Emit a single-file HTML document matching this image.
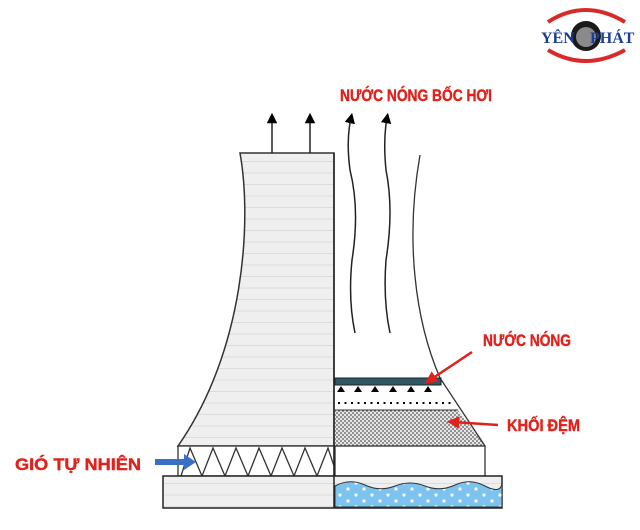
<!DOCTYPE html>
<html><head><meta charset="utf-8"><style>
html,body{margin:0;padding:0;background:#fff;width:640px;height:530px;overflow:hidden}
svg{display:block}
.t{font-family:"Liberation Sans",sans-serif;font-weight:bold;fill:#e0211c;font-size:17px;stroke:#e0211c;stroke-width:0.4}
</style></head><body>
<svg width="640" height="530" viewBox="0 0 640 530">
<defs>
<pattern id="hl" width="10" height="11.5" patternUnits="userSpaceOnUse"><rect width="10" height="11.5" fill="#efefef"/><line x1="0" y1="0.5" x2="10" y2="0.5" stroke="#dcdcdc" stroke-width="1"/></pattern>
<pattern id="dots" width="4" height="4" patternUnits="userSpaceOnUse"><rect width="4" height="4" fill="#e6e6e6"/><circle cx="1" cy="1" r="0.9" fill="#555"/><circle cx="3" cy="3" r="0.9" fill="#555"/></pattern>
<pattern id="wd" width="16" height="12" patternUnits="userSpaceOnUse"><rect width="16" height="12" fill="#7cc3f0"/><circle cx="4" cy="3" r="1.6" fill="#fff"/><circle cx="12" cy="9" r="1.6" fill="#fff"/></pattern>
<marker id="ah" viewBox="0 0 10 10" refX="5" refY="5" markerWidth="7" markerHeight="7" orient="auto"><path d="M0,0L10,5L0,10z" fill="#000"/></marker>
<marker id="ar" viewBox="0 0 10 10" refX="5" refY="5" markerWidth="5" markerHeight="5" orient="auto"><path d="M0,0L10,5L0,10z" fill="#e0211c"/></marker>
</defs>
<path d="M548,22 Q585,-2 625,22" fill="none" stroke="#d92a2a" stroke-width="4"/>
<path d="M548,50 Q585,72 625,50" fill="none" stroke="#d92a2a" stroke-width="4"/>
<circle cx="586" cy="36" r="15" fill="#1a1a1a"/>
<circle cx="586" cy="37" r="10" fill="#8a8a8a"/>
<text x="541" y="43" font-family="Liberation Serif,serif" font-weight="bold" font-size="16" fill="#1c3f94">YÊN</text>
<text x="590" y="43" font-family="Liberation Serif,serif" font-weight="bold" font-size="16" fill="#1c3f94">PHÁT</text>
<path d="M240,153 L334,153 L334,446 L178,446 C245,350 252,220 240,153 Z" fill="url(#hl)" stroke="#333" stroke-width="1.5"/>
<path d="M420,155 C405,240 415,320 440,378" fill="none" stroke="#333" stroke-width="1.3"/>
<path d="M335,410 L458,410 L485,446 L335,446 Z" fill="url(#dots)"/>
<line x1="335" y1="410" x2="458" y2="410" stroke="#333"/>
<line x1="440" y1="378" x2="485" y2="446" stroke="#333" stroke-width="1.3"/>
<rect x="335" y="378" width="106" height="7" fill="#2e5a66" stroke="#222"/>
<g fill="#000">
<path d="M337,392h8l-4,-6z M354,392h8l-4,-6z M371,392h8l-4,-6z M389,392h8l-4,-6z M407,392h8l-4,-6z M424,392h8l-4,-6z"/>
</g>
<line x1="338" y1="403" x2="452" y2="403" stroke="#000" stroke-width="2" stroke-dasharray="2 4.5"/>
<rect x="335" y="446" width="150" height="30" fill="#fff" stroke="#333" stroke-width="1.3"/>
<rect x="178" y="446" width="156" height="30" fill="#fff" stroke="#333" stroke-width="1.3"/>
<path d="M181,476 L190,448 L202,476 L213,448 L225,476 L236,448 L248,476 L259,448 L271,476 L282,448 L294,476 L305,448 L317,476 L328,448 L334,466" fill="none" stroke="#333" stroke-width="1.3"/>
<rect x="163" y="476" width="339" height="32" fill="url(#hl)" stroke="#222" stroke-width="1.5"/>
<path d="M335,486 Q350,478 365,485 T395,486 T425,486 T455,485 T485,486 T502,484 L502,507 L335,507 Z" fill="url(#wd)" stroke="#333"/>
<line x1="334" y1="153" x2="334" y2="508" stroke="#222" stroke-width="1.5"/>
<line x1="272" y1="153" x2="272" y2="118" stroke="#222" stroke-width="1.5" marker-end="url(#ah)"/>
<line x1="310" y1="153" x2="310" y2="118" stroke="#222" stroke-width="1.5" marker-end="url(#ah)"/>
<path d="M355,333 Q348,300 352,260 Q360,210 350,170 Q346,140 351,118" fill="none" stroke="#222" stroke-width="1.5" marker-end="url(#ah)"/>
<path d="M390,333 Q383,300 386,260 Q394,210 386,170 Q383,140 387,118" fill="none" stroke="#222" stroke-width="1.5" marker-end="url(#ah)"/>
<text class="t" x="340" y="101" textLength="152" lengthAdjust="spacingAndGlyphs">NƯỚC NÓNG BỐC HƠI</text>
<text class="t" x="483" y="346" textLength="88" lengthAdjust="spacingAndGlyphs">NƯỚC NÓNG</text>
<text class="t" x="507" y="431" textLength="73" lengthAdjust="spacingAndGlyphs">KHỐI ĐỆM</text>
<text class="t" x="15" y="470" textLength="126" lengthAdjust="spacingAndGlyphs">GIÓ TỰ NHIÊN</text>
<line x1="472" y1="352" x2="430" y2="380" stroke="#e0211c" stroke-width="2.5" marker-end="url(#ar)"/>
<line x1="498" y1="425" x2="453" y2="422" stroke="#e0211c" stroke-width="2.5" marker-end="url(#ar)"/>
<path d="M155,459 L184,459 L184,454 L196,462 L184,470 L184,465 L155,465 Z" fill="#3a6fc6"/>
</svg>
</body></html>
